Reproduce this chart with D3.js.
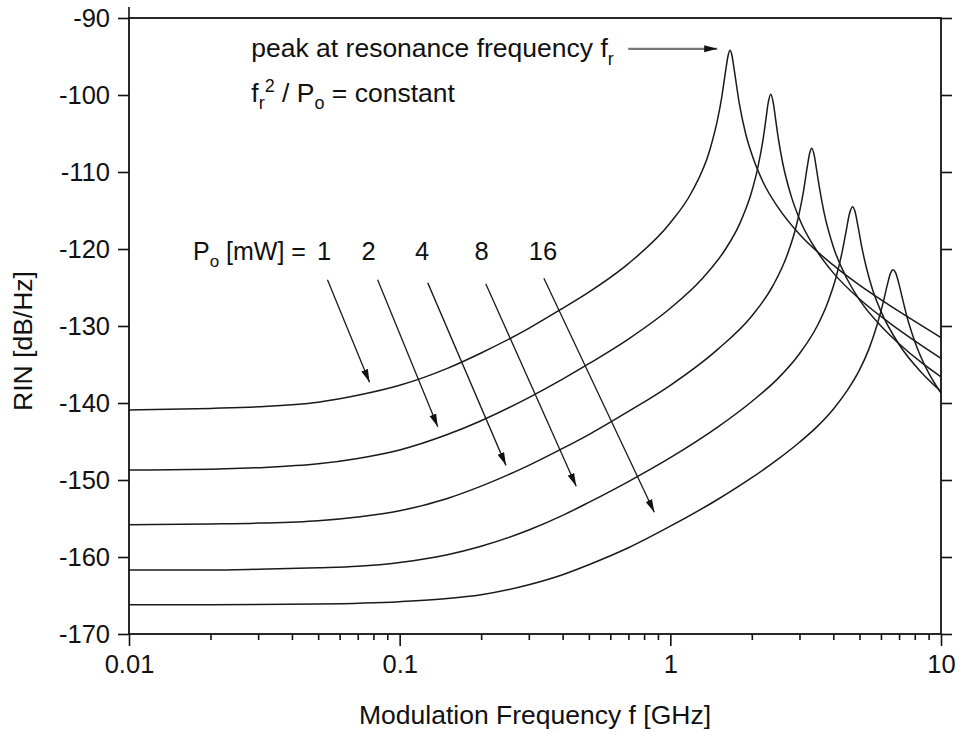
<!DOCTYPE html>
<html><head><meta charset="utf-8">
<script src="https://cdn.jsdelivr.net/npm/d3@7"></script>
<style>
body{margin:0;background:#fff}
svg{display:block}
text{font-family:"Liberation Sans",Arial,Helvetica,sans-serif;fill:#111}
</style>
</head><body>
<svg id="chart" width="961" height="733"></svg>
<script>
// ---------- data ----------
const powerLabels = ["1", "2", "4", "8", "16"];

const freq1 = [0.01,0.02,0.03,0.05,0.07,0.1,0.15,0.2,0.3,0.4,0.5,0.7,1.0,1.2,1.4,1.5,1.55,1.6,1.63,1.66,1.69,1.72,1.8,1.9,2.0,2.2,2.5,3,4,5,7,10];
const rin1  = [-140.9,-140.7,-140.5,-139.9,-139.0,-137.7,-135.5,-133.5,-130.3,-127.7,-125.6,-121.9,-116.6,-112.6,-107.1,-102.9,-100.2,-96.9,-95.1,-94.2,-94.9,-96.6,-101.2,-105.1,-107.7,-111.3,-114.6,-118.1,-122.1,-124.7,-128.1,-131.5];

const freq2 = [0.01,0.02,0.03,0.05,0.07,0.1,0.15,0.2,0.3,0.4,0.5,0.7,1.0,1.3,1.6,1.8,2.0,2.1,2.2,2.25,2.3,2.35,2.4,2.45,2.5,2.6,2.8,3.0,3.5,4,5,7,10];
const rin2  = [-148.7,-148.6,-148.4,-147.9,-147.2,-146.1,-144.1,-142.3,-139.3,-136.9,-134.9,-131.7,-127.7,-124.0,-120.0,-116.8,-112.5,-109.6,-105.8,-103.4,-101.0,-99.9,-101.0,-103.2,-105.4,-108.8,-113.2,-116.1,-120.4,-123.1,-126.5,-130.5,-134.2];

const freq4 = [0.01,0.02,0.03,0.05,0.07,0.1,0.15,0.2,0.3,0.4,0.5,0.7,1.0,1.5,2.0,2.4,2.7,2.9,3.0,3.1,3.2,3.27,3.33,3.4,3.47,3.55,3.7,4.0,4.5,5,6,7,8.5,10];
const rin4  = [-155.8,-155.7,-155.6,-155.3,-154.8,-154.0,-152.4,-150.8,-148.1,-145.9,-144.1,-141.1,-137.7,-133.0,-128.7,-124.7,-120.8,-117.4,-115.2,-112.6,-109.5,-107.6,-106.9,-107.8,-109.7,-111.9,-115.3,-119.7,-123.9,-126.6,-130.0,-132.3,-134.8,-136.6];

const freq8 = [0.01,0.02,0.03,0.05,0.07,0.1,0.15,0.2,0.3,0.4,0.5,0.7,1.0,1.5,2.0,2.5,3.0,3.5,3.8,4.1,4.3,4.45,4.6,4.71,4.8,4.95,5.1,5.3,5.6,6.0,7.0,8.5,10];
const rin8  = [-161.7,-161.7,-161.6,-161.4,-161.2,-160.7,-159.7,-158.6,-156.5,-154.6,-152.9,-150.2,-147.1,-143.1,-139.8,-136.8,-133.6,-129.9,-127.1,-123.6,-120.6,-117.9,-115.3,-114.5,-115.0,-117.3,-119.8,-122.4,-125.4,-128.1,-132.4,-136.1,-138.5];

const freq16 = [0.01,0.02,0.05,0.1,0.15,0.2,0.3,0.4,0.5,0.7,1.0,1.5,2.0,2.5,3,3.5,4,4.5,5,5.4,5.8,6.1,6.35,6.5,6.66,6.8,7.0,7.2,7.5,8,9,10];
const rin16  = [-166.2,-166.2,-166.1,-165.8,-165.4,-164.9,-163.6,-162.3,-161.0,-158.8,-156.0,-152.5,-149.7,-147.3,-145.1,-143.0,-140.8,-138.4,-135.7,-133.1,-129.9,-127.1,-124.5,-123.2,-122.7,-123.1,-124.6,-126.4,-128.9,-132.0,-136.1,-138.7];

const xMajorTicks = [0.01, 0.1, 1, 10];
const xTickLabels = ["0.01", "0.1", "1", "10"];
const xMinorTicks = [0.02,0.03,0.04,0.05,0.06,0.07,0.08,0.09,0.2,0.3,0.4,0.5,0.6,0.7,0.8,0.9,2,3,4,5,6,7,8,9];
const yTicks = [-90,-100,-110,-120,-130,-140,-150,-160,-170];
const yTickLabels = ["-90","-100","-110","-120","-130","-140","-150","-160","-170"];

// power-label arrows
const arrowStartF = [0.0541, 0.0829, 0.127, 0.208, 0.341];
const arrowStartDB = [-124.0, -124.0, -124.4, -124.5, -123.8];
const arrowEndF = [0.0774, 0.1383, 0.247, 0.449, 0.873];
const arrowEndDB = [-137.3, -143.1, -148.1, -150.8, -154.2];
const powerLabelF = [0.0526, 0.0767, 0.1209, 0.2006, 0.3383];
const powerLabelDB = -121.4;
const peakArrowF = [0.699, 1.49];
const peakArrowDB = -94.0;

// ---------- drawing ----------
const svg = d3.select("#chart");
const L = 129, R = 941, T = 18, B = 634;
const x = d3.scaleLog().domain([0.01, 10]).range([L, R]);
const y = d3.scaleLinear().domain([-170, -90]).range([B, T]);

const defs = svg.append("defs");
defs.append("marker").attr("id","ah").attr("markerUnits","userSpaceOnUse")
  .attr("markerWidth",14).attr("markerHeight",8).attr("refX",13).attr("refY",4)
  .attr("orient","auto")
  .append("path").attr("d","M0,0.5 L13,4 L0,7.5 Z").attr("fill","#111");
defs.append("clipPath").attr("id","clip").append("rect")
  .attr("x",L).attr("y",T).attr("width",R-L).attr("height",B-T);

function styleAxis(g){
  g.select(".domain").remove();
  g.selectAll(".tick line").attr("stroke","#111").attr("stroke-width",1.6);
  g.selectAll(".tick text").attr("font-size",25.5).attr("fill","#111")
    .attr("font-family",'"Liberation Sans",Arial,sans-serif');
}

// bottom axis
svg.append("g").attr("transform",`translate(0,${B})`)
  .call(d3.axisBottom(x).tickValues(xMajorTicks).tickSize(12).tickPadding(9)
    .tickFormat((d,i)=>xTickLabels[i])).call(styleAxis);
svg.append("g").attr("transform",`translate(0,${B})`)
  .call(d3.axisBottom(x).tickValues(xMinorTicks).tickSize(6).tickFormat("")).call(styleAxis);
// left axis
svg.append("g").attr("transform",`translate(${L},0)`)
  .call(d3.axisLeft(y).tickValues(yTicks).tickSize(11).tickPadding(8)
    .tickFormat((d,i)=>yTickLabels[i])).call(styleAxis);
// right axis
svg.append("g").attr("transform",`translate(${R},0)`)
  .call(d3.axisRight(y).tickValues(yTicks).tickSize(11).tickFormat("")).call(styleAxis);

// frame
svg.append("rect").attr("x",L).attr("y",T).attr("width",R-L).attr("height",B-T)
  .attr("fill","none").attr("stroke","#111").attr("stroke-width",1.8);
// small overshoot of the left axis above the frame
svg.append("line").attr("x1",L).attr("x2",L).attr("y1",T-11).attr("y2",T)
  .attr("stroke","#111").attr("stroke-width",1.6);

// curves
const series = [[freq1,rin1],[freq2,rin2],[freq4,rin4],[freq8,rin8],[freq16,rin16]];
const line = d3.line().x(d=>x(d[0])).y(d=>y(d[1])).curve(d3.curveMonotoneX);
svg.append("g").attr("clip-path","url(#clip)").selectAll("path").data(series).join("path")
  .attr("d", s => line(s[0].map((f,i)=>[f, s[1][i]])))
  .attr("fill","none").attr("stroke","#1a1a1a").attr("stroke-width",1.5);

// power arrows
svg.append("g").selectAll("line").data(arrowStartF).join("line")
  .attr("x1",(d,i)=>x(arrowStartF[i])).attr("y1",(d,i)=>y(arrowStartDB[i]))
  .attr("x2",(d,i)=>x(arrowEndF[i])).attr("y2",(d,i)=>y(arrowEndDB[i]))
  .attr("stroke","#1a1a1a").attr("stroke-width",1.3).attr("marker-end","url(#ah)");

// power labels
const fs = 26.5, fsSub = 18;
const pl = svg.append("text").attr("x", x(0.01723)).attr("y", y(powerLabelDB)).attr("font-size",25);
pl.append("tspan").text("P");
pl.append("tspan").text("o").attr("font-size",17).attr("dy",7);
pl.append("tspan").text(" [mW] =").attr("dy",-7);
svg.append("g").selectAll("text").data(powerLabels).join("text")
  .attr("x",(d,i)=>x(powerLabelF[i])).attr("y", y(powerLabelDB))
  .attr("text-anchor","middle").attr("font-size",25.5).text(d=>d);

// peak annotation
const t1 = svg.append("text").attr("x", x(0.0283)).attr("y", y(-95.06)).attr("font-size",fs);
t1.append("tspan").text("peak at resonance frequency f");
t1.append("tspan").text("r").attr("font-size",fsSub).attr("dy",8);
const t2 = svg.append("text").attr("x", x(0.0283)).attr("y", y(-100.9)).attr("font-size",fs);
t2.append("tspan").text("f");
t2.append("tspan").text("r").attr("font-size",fsSub).attr("dy",7);
t2.append("tspan").text("2").attr("font-size",fsSub).attr("dy",-17);
t2.append("tspan").text(" / P").attr("dy",10);
t2.append("tspan").text("o").attr("font-size",fsSub).attr("dy",7);
t2.append("tspan").text(" = constant").attr("dy",-7);

svg.append("line")
  .attr("x1", x(peakArrowF[0])).attr("y1", y(peakArrowDB))
  .attr("x2", x(peakArrowF[1])).attr("y2", y(peakArrowDB))
  .attr("stroke","#777").attr("stroke-width",2.2).attr("marker-end","url(#ah)");

// axis titles
svg.append("text").attr("x",(L+R)/2).attr("y",724).attr("text-anchor","middle")
  .attr("font-size",26.5).text("Modulation Frequency f [GHz]");
svg.append("text").attr("transform",`translate(32,${(T+B)/2+15}) rotate(-90)`)
  .attr("text-anchor","middle").attr("font-size",26.5).text("RIN [dB/Hz]");
</script>
</body></html>
